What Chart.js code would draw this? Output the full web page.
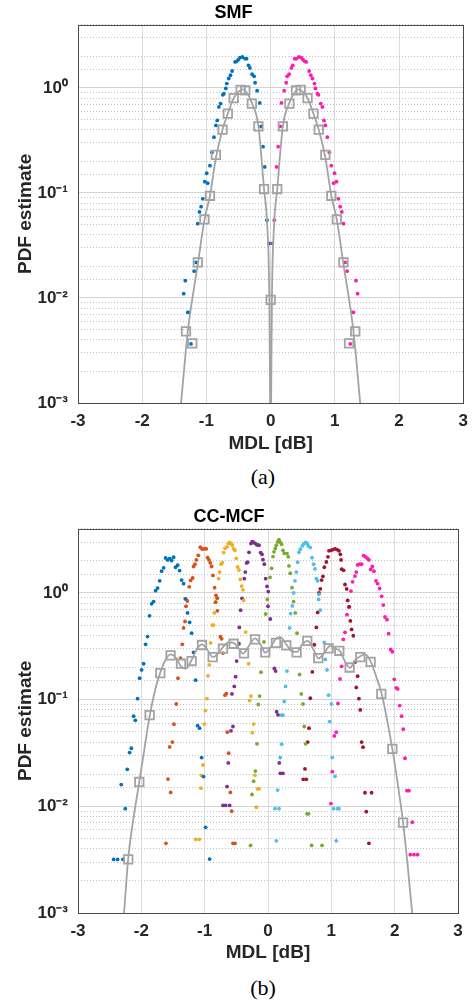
<!DOCTYPE html>
<html>
<head>
<meta charset="utf-8">
<script src="https://cdn.jsdelivr.net/npm/chart.js@4.4.1/dist/chart.umd.min.js"></script>
<style>
  body { margin: 0; background: #fff; width: 476px; height: 1005px; position: relative; overflow: hidden; }
  .plot { position: absolute; left: 0; width: 476px; }
  .cap { position: absolute; left: 0; width: 476px; text-align: center; font: 22px "Liberation Serif", "Times New Roman", serif; line-height: 26px; color: #000; }
</style>
</head>
<body>
<div class="plot" style="top:0;height:460px"><canvas id="smf" width="476" height="460"></canvas></div>
<div class="cap" style="top:464px;left:25px">(a)</div>
<div class="plot" style="top:504px;height:465px"><canvas id="mcf" width="476" height="465"></canvas></div>
<div class="cap" style="top:975px;left:25px">(b)</div>
<script>
// x ticks and log range
const xTicks = [-3, -2, -1, 0, 1, 2, 3];
const yMin = 0.001, yMax = 4;

// ---- SMF (a): [MDL dB, PDF]
const smfBlue = [[-1.354,0.011],[-1.329,0.0146],[-1.29,0.0073],[-1.27,0.0073],[-1.24,0.00365],[-1.19,0.018],[-1.16,0.0218],
  [-1.134,0.051],[-1.108,0.066],[-1.083,0.074],[-1.057,0.088],[-1.026,0.128],[-0.995,0.154],[-0.98,0.124],[-0.945,0.182],
  [-0.914,0.244],[-0.883,0.34],[-0.852,0.44],[-0.831,0.49],[-0.806,0.66],[-0.78,0.71],[-0.745,0.86],[-0.729,0.88],
  [-0.698,0.99],[-0.683,1.10],[-0.652,1.23],[-0.626,1.32],[-0.60,1.45],[-0.554,1.77],[-0.53,1.79],[-0.503,1.86],
  [-0.477,1.94],[-0.44,1.97],[-0.40,1.90],[-0.375,1.90],[-0.345,1.64],[-0.323,1.55],[-0.288,1.35],[-0.257,1.29],
  [-0.242,1.12],[-0.211,0.94],[-0.169,0.72],[-0.149,0.43],[-0.118,0.276],[-0.092,0.177],[-0.057,0.055],[-0.026,0.033]];
const smfPink = [[0.026,0.033],[0.057,0.055],[0.092,0.177],[0.118,0.276],[0.149,0.43],[0.169,0.72],[0.211,0.94],
  [0.242,1.12],[0.257,1.29],[0.288,1.35],[0.323,1.55],[0.345,1.64],[0.375,1.90],[0.40,1.90],[0.44,1.97],[0.477,1.94],
  [0.503,1.86],[0.53,1.79],[0.554,1.77],[0.60,1.45],[0.626,1.32],[0.652,1.23],[0.683,1.10],[0.698,0.99],[0.729,0.88],
  [0.745,0.86],[0.78,0.71],[0.806,0.66],[0.831,0.49],[0.852,0.44],[0.883,0.34],[0.914,0.244],[0.945,0.182],[0.98,0.124],
  [0.995,0.154],[1.026,0.128],[1.057,0.088],[1.083,0.074],[1.108,0.066],[1.134,0.051],[1.16,0.0218],[1.19,0.018],
  [1.24,0.00365],[1.27,0.0073],[1.29,0.0073],[1.329,0.0146],[1.354,0.011]];
const smfSquares = [[-1.318,0.0048],[-1.221,0.0037],[-1.134,0.0218],[-1.031,0.056],[-0.945,0.094],[-0.852,0.23],
  [-0.749,0.40],[-0.667,0.57],[-0.575,0.80],[-0.467,0.96],[-0.395,0.95],[-0.292,0.71],[-0.19,0.43],[-0.103,0.109],
  [0,0.0096],[0.103,0.109],[0.19,0.43],[0.292,0.71],[0.395,0.95],[0.467,0.96],[0.575,0.80],[0.667,0.57],[0.749,0.40],
  [0.852,0.23],[0.945,0.094],[1.031,0.056],[1.134,0.0218],[1.221,0.0037],[1.318,0.0048]];
const smfCurve = [[-1.42,0.0007],[-1.395,0.001],[-1.29,0.0048],[-1.13,0.0218],[-1.03,0.056],[-0.945,0.094],[-0.85,0.22],
  [-0.75,0.40],[-0.667,0.57],[-0.575,0.80],[-0.50,0.92],[-0.43,0.97],[-0.36,0.88],[-0.292,0.72],[-0.19,0.43],
  [-0.103,0.109],[-0.05,0.045],[-0.02,0.0096],[-0.008,0.001],[0,0.0003],[0.008,0.001],[0.02,0.0096],[0.05,0.045],
  [0.103,0.109],[0.19,0.43],[0.292,0.72],[0.36,0.88],[0.43,0.97],[0.50,0.92],[0.575,0.80],[0.667,0.57],[0.75,0.40],
  [0.85,0.22],[0.945,0.094],[1.03,0.056],[1.13,0.0218],[1.29,0.0048],[1.395,0.001],[1.42,0.0007]];

// ---- CC-MCF (b): one peak per core
const mcfBlue = [[-2.438,0.00318],[-2.375,0.00318],[-2.317,0.016],[-2.29,0.00318],[-2.253,0.0095],[-2.222,0.0222],
  [-2.185,0.0319],[-2.158,0.035],[-2.122,0.070],[-2.095,0.064],[-2.059,0.102],[-2.027,0.159],[-1.996,0.19],[-1.964,0.217],
  [-1.933,0.33],[-1.901,0.39],[-1.87,0.61],[-1.838,0.79],[-1.806,0.83],[-1.775,1.05],[-1.743,1.11],[-1.71,1.30],
  [-1.68,1.60],[-1.648,1.72],[-1.617,2.13],[-1.585,2.04],[-1.553,2.10],[-1.522,2.01],[-1.491,2.16],[-1.459,1.74],
  [-1.427,1.82],[-1.396,1.62],[-1.364,1.32],[-1.333,1.22],[-1.301,0.88],[-1.27,0.65],[-1.238,0.53],[-1.206,0.42],
  [-1.175,0.277],[-1.143,0.152],[-1.112,0.057],[-1.08,0.054],[-1.048,0.0286],[-1.017,0.019],[-0.985,0.00635],[-0.922,0.0032]];
const mcfOrange = [[-1.611,0.0045],[-1.579,0.018],[-1.553,0.036],[-1.537,0.0135],[-1.511,0.040],[-1.485,0.0589],
  [-1.448,0.091],[-1.421,0.159],[-1.38,0.245],[-1.353,0.33],[-1.333,0.47],[-1.31,0.54],[-1.306,0.88],[-1.295,0.75],
  [-1.274,0.84],[-1.243,1.14],[-1.222,1.31],[-1.19,1.38],[-1.175,1.77],[-1.153,1.86],[-1.132,2.04],[-1.1,2.25],
  [-1.069,2.68],[-1.037,2.57],[-1.006,2.59],[-0.974,2.59],[-0.954,2.14],[-0.932,2.04],[-0.911,1.91],[-0.89,1.77],
  [-0.869,1.46],[-0.843,1.12],[-0.827,0.82],[-0.821,0.95],[-0.801,0.89],[-0.8,0.68],[-0.753,0.389],[-0.732,0.372],
  [-0.711,0.273],[-0.679,0.110],[-0.658,0.114],[-0.642,0.0495],[-0.621,0.0315],[-0.595,0.0135],[-0.574,0.009],
  [-0.553,0.0045],[-0.521,0.0045]];
const mcfYellow = [[-1.143,0.0049],[-1.085,0.0049],[-1.058,0.0148],[-1.053,0.0195],[-1.027,0.0244],[-1.006,0.059],
  [-0.99,0.079],[-0.963,0.102],[-0.947,0.167],[-0.927,0.212],[-0.906,0.34],[-0.879,0.50],[-0.859,0.50],[-0.848,0.65],
  [-0.827,0.82],[-0.805,0.90],[-0.78,1.36],[-0.764,1.57],[-0.742,1.86],[-0.722,1.92],[-0.701,2.39],[-0.679,2.62],
  [-0.647,2.70],[-0.627,2.90],[-0.606,2.97],[-0.584,2.92],[-0.564,2.80],[-0.543,2.59],[-0.521,2.50],[-0.5,2.11],
  [-0.48,1.75],[-0.458,1.64],[-0.437,1.34],[-0.416,1.16],[-0.395,1.07],[-0.385,0.85],[-0.353,0.43],[-0.306,0.217],
  [-0.29,0.098],[-0.269,0.108],[-0.248,0.049],[-0.227,0.059],[-0.205,0.0195],[-0.185,0.0098],[-0.164,0.0146],[-0.142,0.0146]];
const mcfPurple = [[-0.711,0.0102],[-0.669,0.0102],[-0.647,0.0153],[-0.627,0.0255],[-0.606,0.0102],[-0.584,0.051],
  [-0.569,0.113],[-0.553,0.056],[-0.532,0.133],[-0.511,0.164],[-0.496,0.23],[-0.458,0.334],[-0.453,0.475],[-0.432,0.69],
  [-0.41,0.89],[-0.374,1.36],[-0.358,1.57],[-0.338,1.91],[-0.322,1.94],[-0.3,2.40],[-0.269,2.90],[-0.248,3.03],
  [-0.227,2.97],[-0.196,2.90],[-0.174,2.82],[-0.142,2.80],[-0.117,2.39],[-0.095,2.30],[-0.079,2.05],[-0.058,1.86],
  [-0.037,1.36],[-0.016,1.15],[0.0,0.75],[0.005,1.03],[0.036,0.57],[0.1,0.196],[0.12,0.185],[0.136,0.077],
  [0.158,0.072],[0.178,0.0255],[0.194,0.0204],[0.236,0.0204]];
const mcfGreen = [[-0.275,0.0043],[-0.253,0.0129],[-0.227,0.0172],[-0.2,0.0214],[-0.174,0.0385],[-0.153,0.090],
  [-0.132,0.108],[-0.111,0.181],[-0.063,0.347],[-0.037,0.635],[-0.011,0.87],[0.032,1.40],[0.057,1.70],[0.079,2.19],
  [0.095,2.43],[0.115,2.61],[0.131,2.80],[0.152,3.01],[0.174,3.15],[0.194,2.99],[0.215,2.86],[0.237,2.51],[0.257,2.35],
  [0.3,2.34],[0.32,2.18],[0.331,1.79],[0.352,1.53],[0.379,1.12],[0.404,0.83],[0.431,0.65],[0.458,0.42],[0.499,0.172],
  [0.526,0.113],[0.553,0.091],[0.573,0.056],[0.594,0.0385],[0.616,0.0085],[0.641,0.0085],[0.689,0.0043],[0.853,0.0043]];
const mcfCyan = [[0.11,0.0095],[0.131,0.00475],[0.152,0.0142],[0.174,0.0095],[0.194,0.0286],[0.215,0.0382],[0.215,0.0715],
  [0.236,0.0715],[0.257,0.096],[0.278,0.133],[0.3,0.185],[0.341,0.47],[0.357,0.64],[0.384,0.755],[0.404,1.00],[0.426,1.30],
  [0.447,1.57],[0.468,1.94],[0.489,2.40],[0.51,2.57],[0.542,2.76],[0.562,2.88],[0.594,2.97],[0.616,2.92],[0.636,2.76],
  [0.668,2.66],[0.695,2.14],[0.72,1.86],[0.742,1.68],[0.763,1.36],[0.784,1.30],[0.8,0.87],[0.805,0.97],[0.826,0.69],
  [0.889,0.344],[0.905,0.238],[0.932,0.19],[0.957,0.110],[0.973,0.0622],[1.0,0.091],[1.015,0.0286],[1.036,0.0095],
  [1.058,0.0191],[1.078,0.00475],[1.099,0.0095],[1.121,0.0095]];
const mcfDarkRed = [[0.557,0.0179],[0.584,0.0224],[0.605,0.0179],[0.626,0.040],[0.647,0.054],[0.668,0.103],[0.7,0.182],
  [0.731,0.327],[0.763,0.475],[0.784,0.657],[0.805,1.00],[0.826,1.09],[0.847,1.32],[0.868,1.43],[0.889,1.74],[0.921,1.95],
  [0.947,2.18],[0.963,2.48],[0.995,2.51],[1.026,2.55],[1.058,2.59],[1.09,2.55],[1.121,2.48],[1.142,2.30],[1.153,2.04],
  [1.163,1.67],[1.194,1.63],[1.216,1.20],[1.242,1.09],[1.258,0.85],[1.279,0.74],[1.3,0.546],[1.32,0.455],[1.347,0.397],
  [1.373,0.225],[1.394,0.13],[1.415,0.166],[1.436,0.102],[1.457,0.080],[1.478,0.040],[1.5,0.0358],[1.531,0.0134],
  [1.552,0.0089],[1.594,0.0045],[1.636,0.0134]];
const mcfPink = [[0.994,0.0106],[1.015,0.0211],[1.047,0.0457],[1.078,0.0495],[1.105,0.092],[1.137,0.156],[1.163,0.205],
  [1.189,0.367],[1.216,0.427],[1.247,0.625],[1.284,0.743],[1.31,1.04],[1.336,1.27],[1.373,1.44],[1.394,1.57],[1.415,1.83],
  [1.446,1.86],[1.478,1.86],[1.51,2.24],[1.541,2.18],[1.568,2.11],[1.594,2.04],[1.62,1.66],[1.647,1.77],[1.673,1.60],
  [1.705,1.30],[1.731,1.22],[1.762,1.10],[1.794,0.93],[1.821,0.77],[1.847,0.595],[1.879,0.561],[1.905,0.415],[1.936,0.295],
  [1.963,0.281],[1.994,0.155],[2.026,0.129],[2.047,0.126],[2.079,0.088],[2.11,0.070],[2.136,0.0528],[2.163,0.0282],
  [2.195,0.014],[2.226,0.014],[2.247,0.00352],[2.278,0.0071],[2.305,0.00352],[2.362,0.00352]];
const mcfSquares = [[-2.206,0.00318],[-2.032,0.0169],[-1.869,0.0715],[-1.70,0.177],[-1.538,0.26],[-1.374,0.217],
  [-1.206,0.23],[-1.042,0.325],[-0.874,0.25],[-0.711,0.30],[-0.543,0.334],[-0.379,0.271],[-0.205,0.367],[-0.043,0.277],
  [0.126,0.341],[0.289,0.322],[0.452,0.277],[0.62,0.356],[0.794,0.245],[0.957,0.302],[1.126,0.287],[1.289,0.20],
  [1.457,0.25],[1.62,0.226],[1.789,0.113],[1.963,0.0345],[2.132,0.00702]];
const mcfCurve = [[-2.30,0.0007],[-2.274,0.001],[-2.206,0.0033],[-2.12,0.008],[-2.032,0.017],[-1.95,0.035],[-1.869,0.07],
  [-1.78,0.125],[-1.70,0.18],[-1.62,0.235],[-1.54,0.265],[-1.45,0.245],[-1.374,0.205],[-1.30,0.195],[-1.206,0.235],
  [-1.12,0.30],[-1.04,0.33],[-0.96,0.295],[-0.87,0.25],[-0.79,0.27],[-0.711,0.31],[-0.62,0.345],[-0.543,0.34],
  [-0.46,0.30],[-0.395,0.27],[-0.30,0.32],[-0.205,0.375],[-0.12,0.33],[-0.043,0.275],[0.04,0.31],[0.12,0.37],
  [0.194,0.385],[0.289,0.33],[0.37,0.285],[0.458,0.28],[0.54,0.33],[0.626,0.355],[0.71,0.30],[0.80,0.243],[0.88,0.27],
  [0.979,0.318],[1.06,0.30],[1.137,0.285],[1.22,0.225],[1.295,0.199],[1.38,0.235],[1.463,0.256],[1.531,0.265],
  [1.626,0.225],[1.70,0.17],[1.794,0.114],[1.889,0.0605],[1.963,0.0345],[2.05,0.016],[2.132,0.0071],[2.20,0.003],
  [2.278,0.001],[2.30,0.0008]];

const FONT = '"Liberation Sans", Arial, Helvetica, sans-serif';
const INK = '#262626';
const GRAY = '#a3a3a3';
const SUP = { '-': '\u207B', '0': '\u2070', '1': '\u00B9', '2': '\u00B2', '3': '\u00B3' };

function pts(arr) { return arr.map(p => ({ x: p[0], y: p[1] })); }

function dots(arr, color) {
  return { data: pts(arr), showLine: false, pointRadius: 1.9, pointHoverRadius: 1.9,
           pointBackgroundColor: color, pointBorderWidth: 0, borderColor: color };
}

function grayLine(arr) {
  return { data: pts(arr), showLine: true, pointRadius: 0, borderColor: GRAY, borderWidth: 1.8,
           cubicInterpolationMode: 'monotone', fill: false };
}

function squares(arr) {
  return { data: pts(arr), showLine: false, pointStyle: 'rect', pointRadius: 6, pointHoverRadius: 6,
           pointBorderColor: GRAY, pointBorderWidth: 1.8, pointBackgroundColor: 'rgba(0,0,0,0)' };
}

const boxPlugin = {
  id: 'box',
  afterDatasetsDraw(chart) {
    const a = chart.chartArea, c = chart.ctx;
    c.save();
    c.strokeStyle = '#4a4a4a';
    c.lineWidth = 1;
    c.strokeRect(Math.round(a.left) + 0.5, Math.round(a.top) + 0.5,
                 Math.round(a.right - a.left), Math.round(a.bottom - a.top));
    c.restore();
  }
};

function makeChart(id, title, datasets, padRight, xHeight) {
  return new Chart(document.getElementById(id), {
    type: 'scatter',
    data: { datasets: datasets },
    plugins: [boxPlugin],
    options: {
      responsive: false,
      animation: false,
      layout: { padding: { left: 0, right: padRight, top: 0, bottom: 0 } },
      plugins: {
        legend: { display: false },
        tooltip: { enabled: false },
        title: { display: true, text: title, color: '#000',
                 font: { family: FONT, size: 18, weight: 'bold', lineHeight: 1.15 },
                 padding: { top: 3, bottom: 1 } }
      },
      scales: {
        x: {
          type: 'linear', min: -3, max: 3,
          afterBuildTicks: s => { s.ticks = xTicks.map(v => ({ value: v })); },
          afterFit: s => { s.height = xHeight; },
          ticks: { color: INK, padding: 8, font: { family: FONT, size: 17, weight: 'bold' } },
          grid: { color: '#dcdcdc', lineWidth: 1, drawTicks: false },
          border: { display: false },
          title: { display: true, text: 'MDL [dB]', color: INK, padding: { top: 0, bottom: 5 },
                   font: { family: FONT, size: 19, weight: 'bold', lineHeight: 1.2 } }
        },
        y: {
          type: 'logarithmic', min: yMin, max: yMax,
          afterFit: s => { s.width = 78; },
          ticks: {
            autoSkip: false, color: INK, padding: 10,
            font: { family: FONT, size: 17, weight: 'bold' },
            callback: v => {
              const e = Math.log10(v);
              if (Math.abs(e - Math.round(e)) > 1e-6) return '';
              return '10' + String(Math.round(e)).split('').map(ch => SUP[ch]).join('');
            }
          },
          grid: {
            drawTicks: false, lineWidth: 1,
            color: c => (c.tick && c.tick.major) ? '#d4d4d4' : '#c2c2c2'
          },
          border: { display: false, dash: c => (c.tick && !c.tick.major) ? [1, 2] : [] },
          title: { display: true, text: 'PDF estimate', color: INK, padding: { top: 14, bottom: 0 },
                   font: { family: FONT, size: 19, weight: 'bold', lineHeight: 1.2 } }
        }
      }
    }
  });
}

makeChart('smf', 'SMF', [
  grayLine(smfCurve),
  squares(smfSquares),
  dots(smfBlue, '#0072BD'),
  dots(smfPink, '#FF1CAE')
], 9, 57);

makeChart('mcf', 'CC-MCF', [
  grayLine(mcfCurve),
  squares(mcfSquares),
  dots(mcfBlue, '#0072BD'),
  dots(mcfOrange, '#D95319'),
  dots(mcfYellow, '#EDB120'),
  dots(mcfPurple, '#7E2F8E'),
  dots(mcfGreen, '#77AC30'),
  dots(mcfCyan, '#4DBEEE'),
  dots(mcfDarkRed, '#A2142F'),
  dots(mcfPink, '#FF1CAE')
], 18, 56);
</script>
</body>
</html>
